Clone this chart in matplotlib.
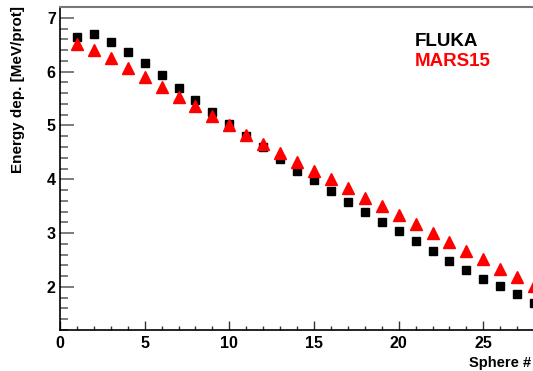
import numpy as np
import matplotlib.pyplot as plt
from matplotlib.ticker import MultipleLocator

plt.rcParams['font.family'] = ['Liberation Sans', 'DejaVu Sans']

# Sphere number and energy deposition per proton (MeV)
spheres = list(range(1, 29))
fluka = [6.64, 6.70, 6.55, 6.36, 6.16, 5.93, 5.69, 5.48, 5.25, 5.02,
         4.81, 4.60, 4.37, 4.16, 3.98, 3.78, 3.57, 3.39, 3.20, 3.03,
         2.85, 2.66, 2.49, 2.32, 2.15, 2.01, 1.86, 1.71]
mars15 = [6.52, 6.41, 6.26, 6.07, 5.90, 5.71, 5.52, 5.36, 5.18, 5.00,
          4.83, 4.66, 4.49, 4.32, 4.16, 4.00, 3.83, 3.65, 3.50, 3.33,
          3.16, 3.00, 2.84, 2.67, 2.51, 2.34, 2.19, 2.02]

fig = plt.figure(figsize=(5.33, 3.71), dpi=100)
ax = fig.add_axes([60 / 533, 41 / 371, 1 - 60 / 533 + 0.01, 1 - 48 / 371])

ax.plot(spheres, fluka, 's', color='black', ms=6, mec='black', clip_on=False)
ax.plot(spheres, mars15, '^', color='red', ms=8, mec='red', clip_on=False)

ax.set_xlim(0, 28.25)
ax.set_ylim(1.2, 7.2)

ax.xaxis.set_major_locator(MultipleLocator(5))
ax.xaxis.set_minor_locator(MultipleLocator(1))
ax.yaxis.set_major_locator(MultipleLocator(1))
ax.yaxis.set_minor_locator(MultipleLocator(0.2))

ax.tick_params(axis='both', which='both', direction='in', labelsize=11.5)
ax.tick_params(axis='y', which='major', length=10, width=1.2, color='#666666', pad=3)
ax.tick_params(axis='y', which='minor', length=5.5, width=1.2, color='#666666')
ax.tick_params(axis='x', which='major', length=6.5, width=1, color='#333333', pad=4)
ax.tick_params(axis='x', which='minor', length=3.2, width=1, color='#333333')
for lab in ax.get_xticklabels() + ax.get_yticklabels():
    lab.set_fontweight('bold')

ax.spines['left'].set_linewidth(1.2)
ax.spines['bottom'].set_linewidth(1.2)
ax.spines['top'].set_color('#777777')
ax.spines['top'].set_linewidth(1.5)
ax.spines['right'].set_visible(False)

fig.text(18 / 533, 1 - 6 / 371, 'Energy dep. [MeV/prot]', rotation=90,
         ha='center', va='top', fontsize=11, fontweight='bold')
fig.text(469 / 533, 1 - 366.5 / 371, 'Sphere #', ha='left', va='baseline',
         fontsize=10.5, fontweight='bold')

fig.text(415 / 533, 1 - 41 / 371, 'FLUKA', color='black', fontsize=13.5,
         fontweight='bold', va='center')
fig.text(415 / 533, 1 - 62 / 371, 'MARS15', color='red', fontsize=13.5,
         fontweight='bold', va='center')

fig.savefig('out.png', dpi=100)
